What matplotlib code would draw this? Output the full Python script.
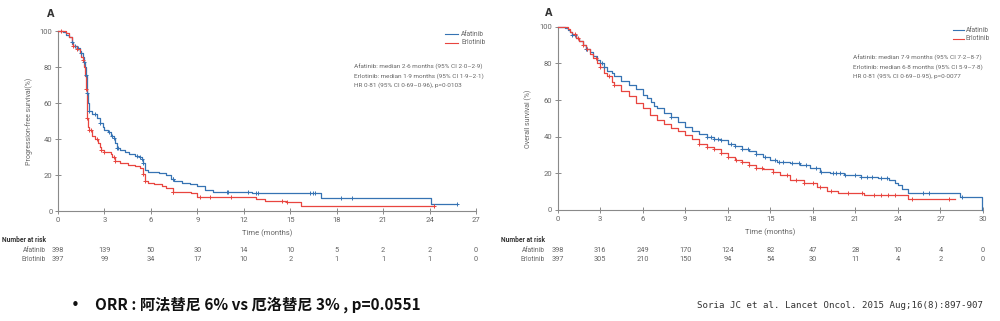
import numpy as np
import matplotlib
matplotlib.use("Agg")
import matplotlib.pyplot as plt
from matplotlib.transforms import blended_transform_factory

# ---------------- data ----------------
pfs_afa_t = [0, 0.3, 0.5, 0.7, 0.9, 1.0, 1.2, 1.4, 1.5, 1.6, 1.7, 1.75, 1.8, 1.85, 1.9, 1.95, 2.0, 2.2, 2.5,
             2.7, 2.9, 3.0, 3.2, 3.4, 3.6, 3.7, 3.8, 4.0, 4.3, 4.6, 5.0, 5.2, 5.4, 5.5, 5.6, 5.8, 6.5, 7.0,
             7.3, 7.5, 8.0, 8.5, 9.0, 9.5, 10.0, 11.0, 12.5, 17.0, 24.1, 25.8]
pfs_afa_s = [100, 99.5, 98, 97, 94, 92, 91, 89, 88, 86, 83, 80, 76, 72, 66, 60, 56, 54, 52,
             49, 47, 45, 44, 42, 41, 38, 35, 34, 33, 32, 31, 30, 29, 27, 23, 22, 21.5, 20,
             18, 17, 16, 15, 14, 12, 11, 10.5, 10, 7.5, 4, 4]
pfs_erl_t = [0, 0.5, 0.7, 0.9, 1.0, 1.2, 1.4, 1.5, 1.6, 1.7, 1.75, 1.8, 1.85, 1.9, 1.95, 2.0, 2.2, 2.4,
             2.6, 2.7, 2.8, 3.0, 3.4, 3.5, 3.7, 4.0, 4.5, 5.0, 5.3, 5.5, 5.6, 5.8, 6.2, 6.7, 7.0, 7.4,
             8.0, 8.6, 9.0, 12.8, 13.4, 14.7, 15.7, 24.3]
pfs_erl_s = [100, 99, 97, 93, 92, 90, 88, 86, 84, 80, 75, 68, 60, 52, 47, 45, 42, 40,
             38, 36, 34, 33, 32, 30, 28, 27, 26, 25, 24, 21, 17, 16, 15, 14, 13, 11,
             10.5, 10, 8.2, 7, 6, 5, 3, 3]
pfs_afa_cens = [0.9, 1.1, 1.3, 1.5, 1.7, 1.8, 1.9, 2.0, 2.4, 2.7, 3.3, 3.5, 3.6, 3.8, 3.9, 5.1, 5.3, 5.4,
                5.5, 7.4, 7.45, 10.9, 11.0, 12.3, 12.8, 12.9, 16.3, 16.5, 16.6, 18.3, 19.0, 25.8]
pfs_erl_cens = [0.2, 1.0, 1.2, 1.6, 1.8, 1.9, 2.0, 2.1, 2.5, 2.8, 3.0, 3.6, 3.7, 5.5, 5.6, 7.4, 7.45,
                9.2, 9.8, 11.2, 14.5, 14.8, 24.3]

os_afa_t = [0, 0.5, 0.7, 0.9, 1.0, 1.3, 1.5, 1.8, 2.0, 2.3, 2.5, 2.8, 3.0, 3.3, 3.5, 3.8, 4.0, 4.5,
            5.0, 5.5, 6.0, 6.3, 6.6, 6.8, 7.0, 7.5, 8.0, 8.5, 9.0, 9.5, 10.0, 10.5, 11.0, 11.5,
            12.0, 12.5, 13.0, 13.5, 14.0, 14.5, 15.0, 15.5, 16.4, 17.1, 17.8, 18.5, 19.2, 20.2,
            21.4, 22.6, 23.4, 23.8, 24.0, 24.3, 24.7, 28.4, 29.9]
os_afa_s = [100, 99.5, 98, 97, 95.5, 94, 92, 90, 88, 86, 84, 82, 80, 78, 76, 74.5, 73, 70.5,
            68, 66, 63, 61, 59, 57, 55.5, 53, 50.5, 48, 45.5, 43, 41.5, 40, 39, 38,
            36, 35, 33.5, 32, 30.5, 29, 27.5, 26, 25.5, 24.5, 22.7, 21, 20, 19.1,
            18.2, 17.3, 16.4, 15, 13.6, 11.5, 9.5, 7.3, 0]
os_erl_t = [0, 0.7, 0.9, 1.0, 1.3, 1.5, 1.8, 2.0, 2.3, 2.5, 2.8, 3.0, 3.3, 3.5, 3.8, 4.0, 4.5, 5.0,
            5.5, 6.0, 6.5, 7.0, 7.5, 8.0, 8.5, 9.0, 9.5, 10.0, 10.5, 11.0, 11.5, 12.0, 12.5, 13.0,
            13.5, 14.0, 14.5, 15.2, 15.7, 16.4, 17.4, 18.3, 19.0, 19.8, 21.6, 24.7, 28.0]
os_erl_s = [100, 99, 97, 96, 94, 92, 90, 88, 85, 83, 80, 78, 75, 73, 70, 68, 65, 62,
            58.5, 55.5, 52, 49, 47, 45, 43, 41, 38.5, 36, 34.5, 33.5, 31, 29, 27.5, 26,
            24.5, 23, 22.5, 20.5, 19, 16.5, 15, 12.7, 10.5, 9.5, 8.2, 6, 6]
os_afa_cens = [1.0, 1.2, 2.0, 2.1, 3.1, 3.3, 8.0, 10.5, 10.8, 11.0, 11.3, 11.5, 12.2, 12.5, 13.0, 13.4,
               14.0, 14.6, 15.3, 15.6, 15.9, 16.5, 17.0, 17.5, 18.2, 18.6, 19.4, 19.6, 19.9, 20.3,
               21.0, 21.4, 21.8, 22.2, 22.8, 23.2, 25.8, 26.2, 28.5]
os_erl_cens = [1.2, 1.4, 1.8, 2.1, 2.7, 3.0, 3.6, 4.0, 10.0, 10.5, 11.0, 11.5, 12.0, 12.6, 13.0, 13.5,
               14.0, 14.4, 15.2, 16.2, 16.8, 17.4, 18.0, 18.5, 19.3, 20.5, 21.5, 22.3, 22.8, 23.3,
               23.8, 25.0, 27.6]

pfs_ticks = [0, 3, 6, 9, 12, 15, 18, 21, 24, 27]
os_ticks = [0, 3, 6, 9, 12, 15, 18, 21, 24, 27, 30]
pfs_risk_afa = [398, 139, 50, 30, 14, 10, 5, 2, 2, 0]
pfs_risk_erl = [397, 99, 34, 17, 10, 2, 1, 1, 1, 0]
os_risk_afa = [398, 316, 249, 170, 124, 82, 47, 28, 10, 4, 0]
os_risk_erl = [397, 305, 210, 150, 94, 54, 30, 11, 4, 2, 0]
y_ticks = [0, 20, 40, 60, 80, 100]

pfs_stats = ["Afatinib: median 2·6 months (95% CI 2·0–2·9)",
             "Erlotinib: median 1·9 months (95% CI 1·9–2·1)",
             "HR 0·81 (95% CI 0·69–0·96), p=0·0103"]
os_stats = ["Afatinib: median 7·9 months (95% CI 7·2–8·7)",
            "Erlotinib: median 6·8 months (95% CI 5·9–7·8)",
            "HR 0·81 (95% CI 0·69–0·95), p=0·0077"]

BLUE = "#3673b3"
RED = "#e8453f"
GREY = "#666666"
AXC = "#8a8a8a"
NARROW = ["Roboto", "DejaVu Sans"]

W, H = 1000, 321
fig = plt.figure(figsize=(W / 100, H / 100), dpi=100)


def fx(px):
    return px / W


def fy(py):
    return 1 - py / H


def surv_at(t_arr, s_arr, times):
    t_arr = np.asarray(t_arr)
    s_arr = np.asarray(s_arr)
    idx = np.searchsorted(t_arr, times, side="right") - 1
    return s_arr[np.clip(idx, 0, len(s_arr) - 1)]


def panel(rect, xmax, xticks, ylabel, afa, erl, afa_c, erl_c, risk_a, risk_e, stats,
          leg_px, stats_px, a_px, risk_lbl_x):
    ax = fig.add_axes(rect)
    for (t, s, c, col) in [(afa[0], afa[1], afa_c, BLUE), (erl[0], erl[1], erl_c, RED)]:
        ax.step(t, s, where="post", color=col, lw=0.9, clip_on=False, zorder=3)
        ax.plot(c, surv_at(t, s, c), ls="none", marker="+", ms=3.2, mew=0.7, color=col,
                clip_on=False, zorder=4)
    ax.set_xlim(0, xmax)
    ax.set_ylim(0, 100)
    ax.set_xticks(xticks)
    ax.set_yticks(y_ticks)
    ax.set_yticklabels([str(v) for v in y_ticks])
    for sp in ["top", "right"]:
        ax.spines[sp].set_visible(False)
    for sp in ["left", "bottom"]:
        ax.spines[sp].set_color(AXC)
        ax.spines[sp].set_linewidth(0.8)
    ax.tick_params(direction="inout", length=4, width=0.7, color=AXC, labelsize=5.5,
                   labelcolor=GREY, pad=2)
    for lab in ax.get_xticklabels() + ax.get_yticklabels():
        lab.set_family(NARROW)
    ax.set_ylabel(ylabel, fontsize=5, color=GREY, labelpad=5, family=NARROW)
    ax.set_xlabel("Time (months)", fontsize=5.5, color=GREY, labelpad=5, family=NARROW)
    ax.patch.set_alpha(0)

    # legend
    lx0, lx1, ltx, ly1, ly2 = leg_px
    for yy, col, lab in [(ly1, BLUE, "Afatinib"), (ly2, RED, "Erlotinib")]:
        fig.add_artist(plt.Line2D([fx(lx0), fx(lx1)], [fy(yy), fy(yy)], color=col, lw=0.8))
        fig.text(fx(ltx), fy(yy), lab, fontsize=4.8, color=GREY, va="center", ha="left",
                 family=NARROW)
    sx, sy = stats_px
    for i, s in enumerate(stats):
        fig.text(fx(sx), fy(sy + 9 * i), s, fontsize=4.6, color=GREY, va="center",
                 ha="left", family=NARROW)
    fig.text(fx(a_px[0]), fy(a_px[1]), "A", fontsize=7, fontweight="bold", color="#333333",
             va="center", ha="left")

    # risk table
    tr = blended_transform_factory(ax.transData, fig.transFigure)
    fig.text(fx(risk_lbl_x), fy(240), "Number at risk", fontsize=4.8, fontweight="bold",
             color="#333333", ha="right", va="center", family=NARROW)
    fig.text(fx(risk_lbl_x), fy(250.5), "Afatinib", fontsize=4.8, color=GREY, ha="right",
             va="center", family=NARROW)
    fig.text(fx(risk_lbl_x), fy(259.5), "Erlotinib", fontsize=4.8, color=GREY, ha="right",
             va="center", family=NARROW)
    for xv, a, e in zip(xticks, risk_a, risk_e):
        ax.text(xv, fy(250.5), str(a), transform=tr, fontsize=5.3, color=GREY, ha="center",
                va="center", family=NARROW)
        ax.text(xv, fy(259.5), str(e), transform=tr, fontsize=5.3, color=GREY, ha="center",
                va="center", family=NARROW)
    return ax


panel([fx(58), fy(211.3), fx(476 - 58), (211.3 - 31.3) / H], 27, pfs_ticks,
      "Progression-free survival(%)", (pfs_afa_t, pfs_afa_s), (pfs_erl_t, pfs_erl_s),
      pfs_afa_cens, pfs_erl_cens, pfs_risk_afa, pfs_risk_erl, pfs_stats,
      (445, 458, 461, 34, 43), (354, 67), (47, 14), 46)

panel([fx(557.7), fy(210), fx(983 - 557.7), (210 - 26.7) / H], 30, os_ticks,
      "Overall survival (%)", (os_afa_t, os_afa_s), (os_erl_t, os_erl_s),
      os_afa_cens, os_erl_cens, os_risk_afa, os_risk_erl, os_stats,
      (953, 964, 966, 30, 39), (853, 58), (545, 13), 545)

# bottom texts
fig.text(fx(71), fy(306), "•", fontsize=11, color="#111111", ha="left", va="center")
fig.text(fx(95), fy(305), "ORR : 阿法替尼 6% vs 厄洛替尼 3% , p=0.0551", fontsize=11,
         color="#111111", ha="left", va="center", fontweight="bold",
         family=["Noto Sans CJK SC", "DejaVu Sans"])
fig.text(fx(697), fy(306), "Soria JC et al. Lancet Oncol. 2015 Aug;16(8):897-907",
         fontsize=6.6, color="#333333", ha="left", va="center", family="DejaVu Sans Mono")

fig.savefig("out.png", dpi=100)
